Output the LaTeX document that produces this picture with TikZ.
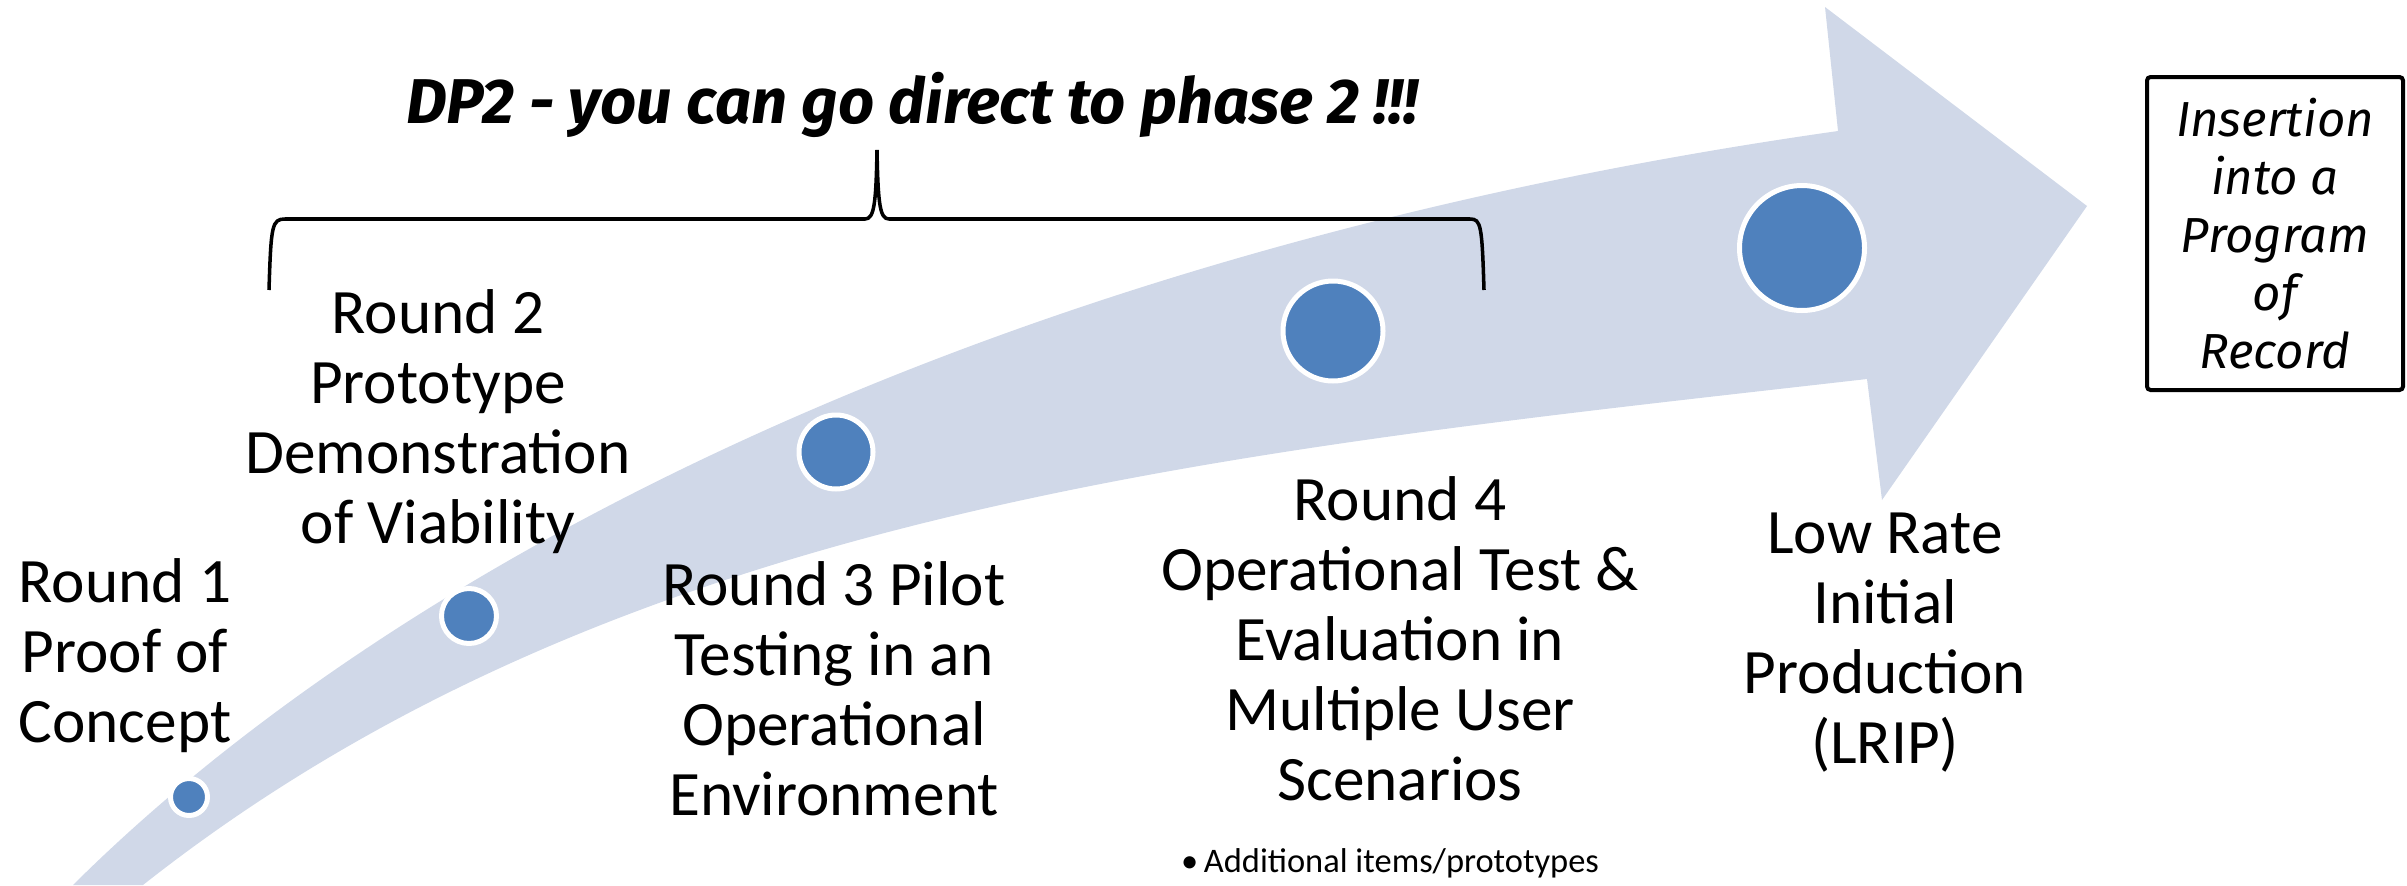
\documentclass[tikz,border=0pt]{standalone}
\usepackage{fontspec}
\setmainfont{Carlito}
\newfontfamily\handfont{Fira Sans}
\usepackage{tikz}

\definecolor{arrowfill}{RGB}{208,216,232}
\definecolor{dotblue}{RGB}{79,129,189}

\begin{document}
\begin{tikzpicture}[
	stage/.style = {align = center, anchor = base, inner sep = 0pt, font = \fontsize{18}{19.9}\selectfont},
	dot/.style = {circle, fill = dotblue, draw = white, line width = 0.05cm, inner sep = 0pt}
	]
	 \useasboundingbox (0, 0) rectangle (24.07, 8.85);
	 
	 \fill[arrowfill] (0.73, 0) .. controls (4.00, 3.25) and (10.00, 6.35) .. (18.38, 7.54)
	 -- (18.25, 8.78) -- (20.87, 6.79) -- (18.82, 3.85) -- (18.67, 5.06)
	 .. controls (12.37, 4.34) and (6.23, 3.79) .. (1.43, 0) -- cycle;
	 
	 \node[dot, minimum size = 0.37 cm] (d1) at (1.89, 0.88) {};
	 \node[dot, minimum size = 0.55 cm] (d2) at (4.69, 2.69) {};
	 \node[dot, minimum size = 0.74 cm] (d3) at (8.36, 4.33) {};
	 \node[dot, minimum size = 1.00 cm] (d4) at (13.33, 5.54) {};
	 \node[dot, minimum size = 1.25 cm] (d5) at (18.02, 6.37) {};
	 
	 % base anchor sits on the last line
	 \node[stage] (r1) at (1.25, 1.43) {Round 1\\Proof of\\Concept};
	 \node[stage] (r2) at (4.38, 3.42) {Round 2\\Prototype\\Demonstration\\of Viability};
	 \node[stage] (r3) at (8.34, 0.70) {Round 3 Pilot\\Testing in an\\Operational\\Environment};
	 \node[stage] (r4) at (14.00, 0.85) {Round 4\\Operational Test \&\\Evaluation in\\Multiple User\\Scenarios};
	 \node[stage] (lrip) at (18.85, 1.22) {Low Rate\\Initial\\Production\\(LRIP)};
	 \node[anchor = base, inner sep = 0pt, font = \fontsize{9.8}{12}\selectfont] (extra) at (13.90, 0.13) {\textbullet\,Additional items/prototypes};
	 
	 \draw[line width = 1 pt] (2.69, 5.95) .. controls (2.71, 6.60) and (2.72, 6.66) .. (2.85, 6.66) -- (8.65, 6.66)
	 .. controls (8.74, 6.66) and (8.76, 6.80) .. (8.77, 7.35)
	 .. controls (8.78, 6.80) and (8.80, 6.66) .. (8.89, 6.66) -- (14.70, 6.66)
	 .. controls (14.81, 6.66) and (14.82, 6.60) .. (14.84, 5.95);
	 \node[anchor = base, inner sep = 0pt, font = \handfont\bfseries\itshape\fontsize{18}{21}\selectfont] (dp) at (9.12, 7.62) {DP2 - you can go direct to phase 2 !!!};
	 
	 \node[draw, line width = 0.04 cm, rounded corners = 1 pt, minimum width = 2.56 cm, minimum height = 3.13 cm, align = center, font = \handfont\itshape\fontsize{14}{16.5}\selectfont] (box) at (22.75, 6.515) {Insertion\\into a\\Program\\of\\Record};
\end{tikzpicture}
\end{document}
